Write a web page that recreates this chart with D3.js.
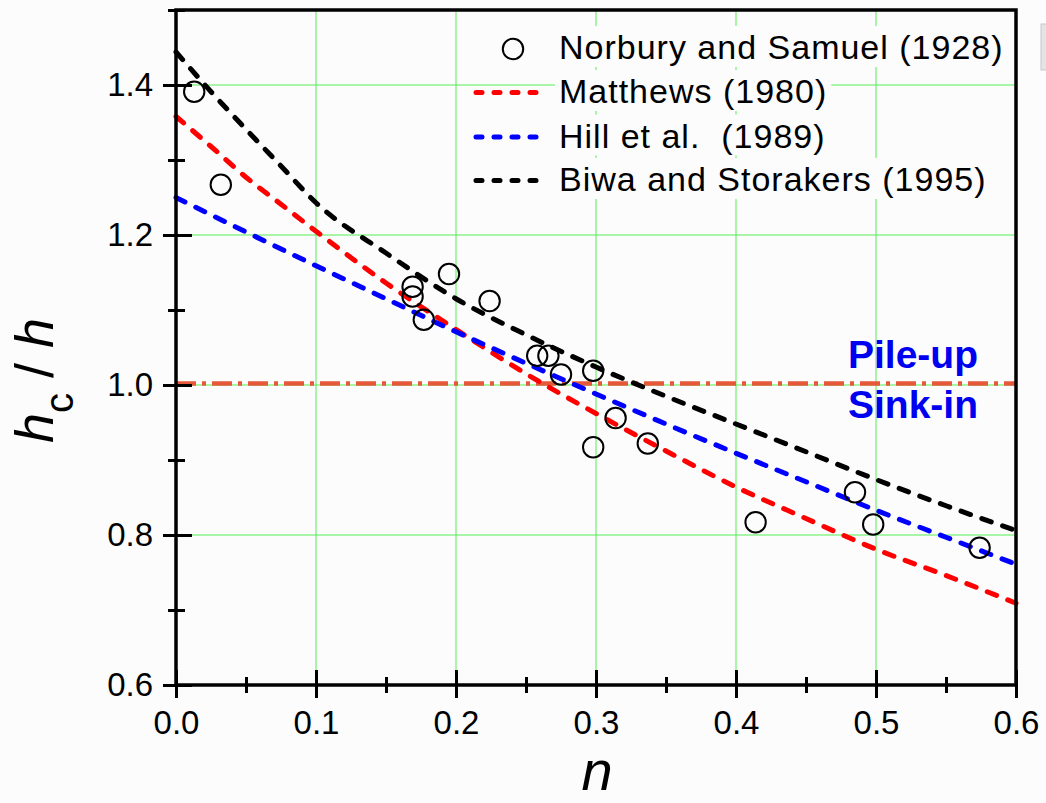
<!DOCTYPE html>
<html>
<head>
<meta charset="utf-8">
<script src="https://cdn.jsdelivr.net/npm/d3@7"></script>
<style>
  html, body { margin: 0; padding: 0; background: #fcfcfc; }
  svg { display: block; font-family: "Liberation Sans", Arial, sans-serif; }
  .legend-label { white-space: pre; }
</style>
</head>
<body>
<svg id="chart" width="1046" height="803"></svg>
<script>
// Strain-hardening exponent n and measured/predicted contact depth ratio hc/h
const expN =   [0.013, 0.032, 0.169, 0.169, 0.177, 0.195, 0.224, 0.258, 0.266, 0.275, 0.298, 0.314, 0.298, 0.337, 0.414, 0.485, 0.498, 0.574];
const expHc =  [1.391, 1.267, 1.131, 1.118, 1.087, 1.148, 1.112, 1.039, 1.039, 1.014, 1.019, 0.956, 0.917, 0.922, 0.817, 0.857, 0.814, 0.783];

const matthewsN  = [0, 0.025, 0.05, 0.075, 0.1, 0.15, 0.2, 0.25, 0.3, 0.35, 0.4, 0.45, 0.5, 0.55, 0.6];
const matthewsHc = [1.358, 1.318, 1.277, 1.241, 1.205, 1.136, 1.074, 1.015, 0.962, 0.912, 0.864, 0.822, 0.781, 0.746, 0.709];

const hillN  = [0, 0.05, 0.1, 0.15, 0.2, 0.25, 0.3, 0.35, 0.4, 0.45, 0.5, 0.55, 0.6];
const hillHc = [1.250, 1.204, 1.159, 1.115, 1.071, 1.029, 0.988, 0.948, 0.909, 0.871, 0.833, 0.797, 0.761];

const biwaN  = [0, 0.025, 0.05, 0.075, 0.1, 0.15, 0.2, 0.25, 0.3, 0.35, 0.4, 0.45, 0.5, 0.55, 0.6];
const biwaHc = [1.444, 1.391, 1.341, 1.292, 1.243, 1.176, 1.115, 1.067, 1.024, 0.985, 0.948, 0.911, 0.874, 0.839, 0.806];

const refLevel = 1.002;   // pile-up / sink-in boundary

const xMajor = [0, 0.1, 0.2, 0.3, 0.4, 0.5, 0.6];
const xMinor = [0.05, 0.15, 0.25, 0.35, 0.45, 0.55];
const yMajor = [0.6, 0.8, 1.0, 1.2, 1.4];
const yMinor = [0.7, 0.9, 1.1, 1.3, 1.5];
const xGrid = [0.1, 0.2, 0.3, 0.4, 0.5];
const yGrid = [0.8, 1.0, 1.2, 1.4];

const legendLabels = ["Norbury and Samuel (1928)", "Matthews (1980)", "Hill et al.  (1989)", "Biwa and Storakers (1995)"];

(function draw() {
  const svg = d3.select("#chart");
  const pLeft = 176, pRight = 1016, pTop = 10, pBottom = 685;
  const x = d3.scaleLinear().domain([0, 0.6]).range([pLeft, pRight]);
  const y = d3.scaleLinear().domain([0.6, 1.5]).range([pBottom, pTop]);

  // grid
  const gridColor = "#55ee55";
  svg.append("g").selectAll("line").data(xGrid).join("line")
    .attr("x1", d => x(d)).attr("x2", d => x(d))
    .attr("y1", pTop).attr("y2", pBottom)
    .attr("stroke", gridColor).attr("stroke-width", 1);
  svg.append("g").selectAll("line").data(yGrid).join("line")
    .attr("x1", pLeft).attr("x2", pRight)
    .attr("y1", d => y(d)).attr("y2", d => y(d))
    .attr("stroke", gridColor).attr("stroke-width", 1);

  // reference line at hc/h = 1
  svg.append("line")
    .attr("x1", x(0)).attr("x2", x(0.6))
    .attr("y1", y(refLevel)).attr("y2", y(refLevel))
    .attr("stroke", "#e6583a").attr("stroke-width", 4.5)
    .attr("stroke-dasharray", "20,6,4,6");

  // model curves
  const line = d3.line().x(d => x(d[0])).y(d => y(d[1])).curve(d3.curveMonotoneX);
  const series = [
    { n: matthewsN, v: matthewsHc, color: "#ff0000" },
    { n: hillN, v: hillHc, color: "#0000ff" },
    { n: biwaN, v: biwaHc, color: "#000000" }
  ];
  series.forEach(s => {
    svg.append("path")
      .attr("d", line(s.n.map((n, i) => [n, s.v[i]])))
      .attr("fill", "none")
      .attr("stroke", s.color)
      .attr("stroke-width", 5)
      .attr("stroke-linecap", "round")
      .attr("stroke-dasharray", "10,12");
  });

  // experimental points
  svg.append("g").selectAll("circle").data(expN.map((n, i) => [n, expHc[i]])).join("circle")
    .attr("cx", d => x(d[0])).attr("cy", d => y(d[1]))
    .attr("r", 10.2)
    .attr("fill", "none").attr("stroke", "#000").attr("stroke-width", 2);

  // annotations
  svg.append("text").text("Pile-up")
    .attr("x", 848).attr("y", 368)
    .attr("font-size", 39).attr("font-weight", "bold").attr("fill", "#0000f0");
  svg.append("text").text("Sink-in")
    .attr("x", 848).attr("y", 418)
    .attr("font-size", 39).attr("font-weight", "bold").attr("fill", "#0000f0");

  // legend
  const legend = svg.append("g");
  const rowBase = [59, 103, 147.5, 191];
  const legendColors = [null, "#ff0000", "#0000ff", "#000000"];
  legendLabels.forEach((label, i) => {
    const bg = legend.append("rect").attr("fill", "#fcfcfc");
    const t = legend.append("text").attr("class", "legend-label").text(label)
      .attr("x", 559).attr("y", rowBase[i])
      .attr("font-size", 34).attr("letter-spacing", 1).attr("fill", "#000");
    const bb = t.node().getBBox();
    bg.attr("x", bb.x - 4).attr("y", rowBase[i] - 33)
      .attr("width", bb.width + 8).attr("height", 41);
    if (i === 0) {
      legend.append("circle").attr("cx", 513).attr("cy", rowBase[i] - 10).attr("r", 10.2)
        .attr("fill", "none").attr("stroke", "#000").attr("stroke-width", 2);
    } else {
      legend.append("line")
        .attr("x1", 476).attr("x2", 545)
        .attr("y1", rowBase[i] - 10.5).attr("y2", rowBase[i] - 10.5)
        .attr("stroke", legendColors[i]).attr("stroke-width", 5)
        .attr("stroke-linecap", "round").attr("stroke-dasharray", "6,12");
    }
  });

  // axes
  const fmt = d3.format(".1f");
  const yAxis = svg.append("g").attr("transform", `translate(${pLeft},0)`)
    .call(d3.axisLeft(y).tickValues(yMajor).tickFormat(fmt).tickSizeInner(13).tickSizeOuter(0).tickPadding(10));
  yAxis.selectAll(".tick line").attr("x1", 16).attr("stroke-width", 3);
  yAxis.select(".domain").remove();
  yAxis.selectAll(".tick text").attr("font-size", 33).attr("font-family", "Liberation Sans, Arial, sans-serif").attr("fill", "#000");

  const yMinorAxis = svg.append("g").attr("transform", `translate(${pLeft},0)`)
    .call(d3.axisLeft(y).tickValues(yMinor).tickFormat("").tickSizeInner(8).tickSizeOuter(0));
  yMinorAxis.selectAll(".tick line").attr("x1", 9).attr("stroke-width", 3);
  yMinorAxis.select(".domain").remove();

  const xAxis = svg.append("g").attr("transform", `translate(0,${pBottom})`)
    .call(d3.axisBottom(x).tickValues(xMajor).tickFormat(fmt).tickSizeInner(13).tickSizeOuter(0).tickPadding(12.5));
  xAxis.selectAll(".tick line").attr("y1", -15).attr("stroke-width", 3);
  xAxis.select(".domain").remove();
  xAxis.selectAll(".tick text").attr("font-size", 33).attr("font-family", "Liberation Sans, Arial, sans-serif").attr("fill", "#000");

  const xMinorAxis = svg.append("g").attr("transform", `translate(0,${pBottom})`)
    .call(d3.axisBottom(x).tickValues(xMinor).tickFormat("").tickSizeInner(8).tickSizeOuter(0));
  xMinorAxis.selectAll(".tick line").attr("y1", -8).attr("stroke-width", 3);
  xMinorAxis.select(".domain").remove();

  // frame
  svg.append("rect")
    .attr("x", pLeft).attr("y", pTop)
    .attr("width", pRight - pLeft).attr("height", pBottom - pTop)
    .attr("fill", "none").attr("stroke", "#000").attr("stroke-width", 3.5);

  // axis titles
  svg.append("text")
    .attr("x", 597).attr("y", 790)
    .attr("text-anchor", "middle")
    .attr("font-size", 56).attr("font-style", "italic").text("n");

  const yTitle = svg.append("text")
    .attr("transform", "translate(53,443) rotate(-90)")
    .attr("font-size", 54);
  yTitle.append("tspan").attr("font-style", "italic").text("h");
  yTitle.append("tspan").attr("font-size", 40).attr("dy", 20).text("c");
  yTitle.append("tspan").attr("dy", -20).text(" / ");
  yTitle.append("tspan").attr("font-style", "italic").text("h");

  // small grey tab at the right edge
  svg.append("rect").attr("x", 1041).attr("y", 24).attr("width", 6).attr("height", 46)
    .attr("fill", "#e4e4e4").attr("stroke", "#c8c8c8").attr("stroke-width", 1);
})();
</script>
</body>
</html>
